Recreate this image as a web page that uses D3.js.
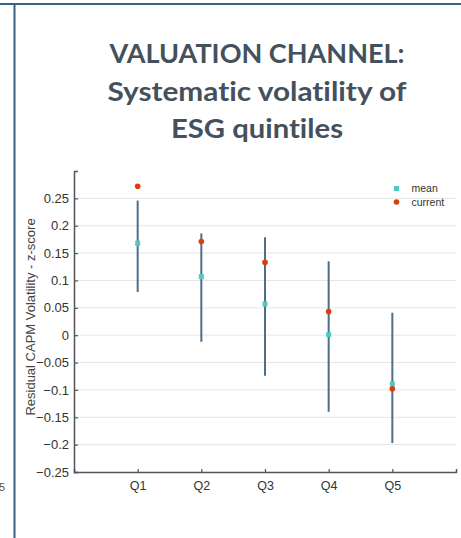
<!DOCTYPE html>
<html>
<head>
<meta charset="utf-8">
<script src="https://cdn.jsdelivr.net/npm/d3@7"></script>
<style>
  html, body { margin: 0; padding: 0; background: #fff; }
  svg { display: block; }
  text { font-variant-ligatures: none; font-feature-settings: "liga" 0, "clig" 0; }
</style>
</head>
<body>
<script>
// Quintile labels and statistics (z-scores)
const categories = ["Q1", "Q2", "Q3", "Q4", "Q5"];
const meanVals = [0.168, 0.107, 0.057, 0.001, -0.089];
const currentVals = [0.272, 0.171, 0.133, 0.043, -0.098];
const lowVals = [0.079, -0.012, -0.074, -0.140, -0.197];
const highVals = [0.246, 0.186, 0.179, 0.135, 0.041];
const yTicks = [-0.25, -0.2, -0.15, -0.1, -0.05, 0, 0.05, 0.1, 0.15, 0.2, 0.25];
const titleLines = ["VALUATION CHANNEL:", "Systematic volatility of", "ESG quintiles"];
const titleWidths = [295, 299, 172];
const legendItems = ["mean", "current"];

const W = 461, H = 538;
const svg = d3.select("body").append("svg").attr("width", W).attr("height", H);

// slide frame
svg.append("line").attr("x1", 0).attr("x2", W).attr("y1", 4).attr("y2", 4)
  .attr("stroke", "#3b6180").attr("stroke-width", 2);
svg.append("line").attr("x1", 14.5).attr("x2", 14.5).attr("y1", 4).attr("y2", H)
  .attr("stroke", "#3b6180").attr("stroke-width", 2);
svg.append("text").attr("x", -1).attr("y", 491).text("5")
  .attr("font-family", "Liberation Sans, Arial, sans-serif").attr("font-size", 11).attr("fill", "#555");

// title, each line fitted to its width
const title = svg.append("g")
  .attr("font-family", "Lato, 'Open Sans', sans-serif").attr("font-weight", 700)
  .attr("font-size", 27.5).attr("fill", "#44515c");
titleLines.forEach((t, i) => {
  title.append("text").attr("text-anchor", "middle")
    .attr("x", 257).attr("y", 63 + i * 37.5)
    .attr("textLength", titleWidths[i]).attr("lengthAdjust", "spacingAndGlyphs")
    .text(t);
});

// scales
const x = d3.scaleLinear().domain([0, categories.length + 1]).range([74, 456]);
const y = d3.scaleLinear().domain([-0.25, 0.3]).range([472, 171]);

const font = "Liberation Sans, Arial, sans-serif";

// gridlines
svg.append("g").selectAll("line").data(yTicks.filter(v => v > -0.25)).join("line")
  .attr("x1", x(0)).attr("x2", x(6)).attr("y1", d => y(d)).attr("y2", d => y(d))
  .attr("stroke", "#e6e6e6").attr("stroke-width", 1);

// y axis
const yAxis = svg.append("g").attr("transform", `translate(${x(0)},0)`)
  .call(d3.axisLeft(y).tickValues(yTicks).tickSize(-4).tickPadding(5)
    .tickFormat(d => d3.format("")(+d.toFixed(2))));
yAxis.select(".domain").attr("stroke", "#555").attr("stroke-width", 1.5);
yAxis.selectAll(".tick line").attr("stroke", "#555").attr("stroke-width", 1.2);
yAxis.selectAll(".tick text").attr("font-family", font).attr("font-size", 13).attr("fill", "#333");

// x axis
const xAxis = svg.append("g").attr("transform", `translate(0,${y(-0.25)})`)
  .call(d3.axisBottom(x).tickValues(categories.map((c, i) => i + 1)).tickSize(-3).tickPadding(9)
    .tickFormat((d, i) => categories[i]));
xAxis.select(".domain").attr("stroke", "#555").attr("stroke-width", 1.5);
xAxis.selectAll(".tick line").attr("stroke", "#555").attr("stroke-width", 1.2);
xAxis.selectAll(".tick text").attr("font-family", font).attr("font-size", 12.5).attr("fill", "#333");

// y axis title
svg.append("text").attr("transform", `translate(34.5,317) rotate(-90)`)
  .attr("text-anchor", "middle").attr("font-family", font).attr("font-size", 13)
  .attr("fill", "#444").text("Residual CAPM Volatility - z-score");

// range bars
svg.append("g").selectAll("line").data(categories).join("line")
  .attr("x1", (d, i) => x(i + 1)).attr("x2", (d, i) => x(i + 1))
  .attr("y1", (d, i) => y(highVals[i])).attr("y2", (d, i) => y(lowVals[i]))
  .attr("stroke", "#4d6e86").attr("stroke-width", 2);

// mean markers
const sq = 5;
svg.append("g").selectAll("rect").data(meanVals).join("rect")
  .attr("x", (d, i) => x(i + 1) - sq / 2).attr("y", d => y(d) - sq / 2)
  .attr("width", sq).attr("height", sq).attr("fill", "#4fc9c4");

// current markers
svg.append("g").selectAll("circle").data(currentVals).join("circle")
  .attr("cx", (d, i) => x(i + 1)).attr("cy", d => y(d)).attr("r", 2.8)
  .attr("fill", "#dc3d0c");

// legend
const legend = svg.append("g");
legendItems.forEach((name, i) => {
  const ly = 188.5 + i * 13.5;
  if (i === 0) {
    legend.append("rect").attr("x", 396.5 - sq / 2).attr("y", ly - sq / 2)
      .attr("width", sq).attr("height", sq).attr("fill", "#4fc9c4");
  } else {
    legend.append("circle").attr("cx", 396.5).attr("cy", ly).attr("r", 2.8).attr("fill", "#dc3d0c");
  }
  legend.append("text").attr("x", 411.5).attr("y", ly).attr("dy", "0.35em")
    .attr("font-family", font).attr("font-size", 10.5).attr("fill", "#333").text(name);
});
</script>
</body>
</html>
